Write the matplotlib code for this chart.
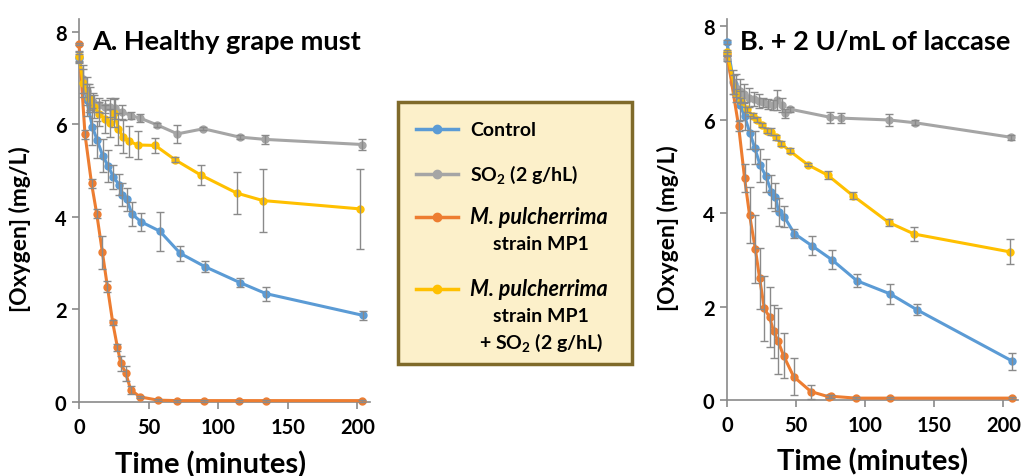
import matplotlib
matplotlib.use("Agg")
import matplotlib.pyplot as plt
from matplotlib.lines import Line2D
from matplotlib.patches import Rectangle

plt.rcParams['font.family'] = ['Lato', 'DejaVu Sans']
plt.rcParams['mathtext.fontset'] = 'custom'
plt.rcParams['mathtext.rm'] = 'Lato:bold'
plt.rcParams['mathtext.it'] = 'Lato:italic:bold'
plt.rcParams['mathtext.bf'] = 'Lato:bold'

# ---------------- data: panel A (healthy grape must) ----------------
A_ctrl_t = [0, 5.5, 9.6, 13, 17, 21, 24.7, 28.8, 31.2, 34.3, 38, 44.6, 58, 72.7, 90.6, 115.5, 134.3, 204]
A_ctrl_v = [7.42, 6.52, 5.94, 5.66, 5.32, 5.09, 4.86, 4.69, 4.48, 4.38, 4.06, 3.89, 3.69, 3.21, 2.92, 2.58, 2.34, 1.87]
A_ctrl_e = [0.1, 0.35, 0.4, 0.4, 0.35, 0.35, 0.25, 0.23, 0.25, 0.25, 0.25, 0.2, 0.42, 0.16, 0.12, 0.1, 0.15, 0.1]

A_so2_t = [0, 3, 5.5, 8, 10.3, 14.6, 18.7, 22.3, 25.9, 30.7, 37.4, 43.9, 56.3, 70.7, 89.4, 115.3, 133.8, 203.4]
A_so2_v = [7.45, 6.98, 6.72, 6.55, 6.47, 6.41, 6.38, 6.36, 6.34, 6.27, 6.18, 6.13, 5.98, 5.79, 5.90, 5.72, 5.67, 5.56]
A_so2_e = [0.1, 0.3, 0.3, 0.25, 0.2, 0.15, 0.15, 0.2, 0.23, 0.15, 0.08, 0.08, 0.05, 0.2, 0.03, 0.05, 0.1, 0.12]

A_mp1_t = [0, 4.3, 9, 12.7, 16.8, 20.4, 24.2, 27.6, 30, 33.6, 37.2, 43.9, 56.6, 70.7, 89.9, 115, 134, 203]
A_mp1_v = [7.73, 5.78, 4.72, 4.07, 3.23, 2.49, 1.72, 1.18, 0.84, 0.62, 0.26, 0.11, 0.04, 0.03, 0.03, 0.03, 0.03, 0.03]
A_mp1_e = [0.02, 0.1, 0.1, 0.1, 0.36, 0.12, 0.05, 0.08, 0.16, 0.16, 0.08, 0.03, 0.02, 0.02, 0.02, 0.02, 0.02, 0.02]

A_mix_t = [0, 3, 7.4, 11, 14.6, 18.7, 22.3, 25.4, 28.3, 31.4, 36, 42.2, 54.7, 69, 87.5, 113.4, 132, 201.7]
A_mix_v = [7.47, 6.89, 6.57, 6.38, 6.22, 6.11, 6.02, 6.24, 5.90, 5.73, 5.63, 5.55, 5.54, 5.23, 4.90, 4.51, 4.35, 4.17]
A_mix_e = [0.1, 0.3, 0.3, 0.25, 0.25, 0.3, 0.3, 0.3, 0.35, 0.35, 0.34, 0.3, 0.16, 0.05, 0.22, 0.46, 0.68, 0.87]

# ---------------- data: panel B (+ 2 U/mL of laccase) ----------------
B_ctrl_t = [0, 5, 9.6, 12.7, 16.5, 20, 24, 28, 32, 35, 37.3, 41.4, 48.7, 61.4, 75.9, 94, 118, 137.4, 206.5]
B_ctrl_v = [7.66, 6.75, 6.30, 6.07, 5.72, 5.40, 5.02, 4.80, 4.46, 4.35, 4.03, 3.92, 3.56, 3.30, 3.00, 2.55, 2.27, 1.93, 0.83]
B_ctrl_e = [0.05, 0.2, 0.3, 0.3, 0.35, 0.35, 0.35, 0.35, 0.35, 0.3, 0.3, 0.23, 0.1, 0.2, 0.2, 0.14, 0.21, 0.12, 0.18]

B_so2_t = [0, 4, 6.5, 9.1, 12, 15.6, 19.3, 22.9, 26, 29.6, 33.3, 36.1, 39.8, 41.7, 45.8, 74.2, 82.4, 117.4, 136.2, 205.4]
B_so2_v = [7.30, 6.80, 6.68, 6.62, 6.55, 6.47, 6.44, 6.40, 6.37, 6.33, 6.31, 6.42, 6.31, 6.13, 6.22, 6.05, 6.03, 5.99, 5.93, 5.62]
B_so2_e = [0.05, 0.25, 0.3, 0.25, 0.2, 0.2, 0.15, 0.15, 0.1, 0.1, 0.1, 0.22, 0.15, 0.1, 0.05, 0.12, 0.1, 0.12, 0.05, 0.05]

B_mp1_t = [0, 8.4, 12.7, 16.3, 20.5, 23.6, 27, 30.8, 33.7, 36.9, 40.9, 48.2, 60.7, 73.5, 75.5, 93.3, 117.6, 206]
B_mp1_v = [7.40, 5.86, 4.75, 3.96, 3.23, 2.60, 1.96, 1.77, 1.47, 1.26, 0.95, 0.50, 0.18, 0.07, 0.08, 0.04, 0.04, 0.04]
B_mp1_e = [0.05, 0.1, 0.3, 0.6, 0.73, 0.66, 0.7, 0.64, 0.57, 0.7, 0.48, 0.39, 0.15, 0.03, 0.03, 0.02, 0.02, 0.02]

B_mix_t = [0, 6.5, 10.3, 14.5, 18.5, 21.7, 25.3, 28.9, 32, 35.6, 39.3, 45.3, 58.6, 72.8, 91.1, 116.9, 135.4, 204.4]
B_mix_v = [7.44, 6.57, 6.40, 6.22, 6.08, 6.00, 5.88, 5.76, 5.74, 5.62, 5.48, 5.33, 5.03, 4.81, 4.37, 3.80, 3.55, 3.17]
B_mix_e = [0.05, 0.08, 0.05, 0.05, 0.05, 0.05, 0.05, 0.05, 0.08, 0.05, 0.05, 0.05, 0.03, 0.08, 0.07, 0.07, 0.15, 0.27]

series_names = ["Control", "SO2 (2 g/hL)", "M. pulcherrima strain MP1", "M. pulcherrima strain MP1 + SO2 (2 g/hL)"]
colors = ["#5B9BD5", "#A5A5A5", "#ED7D31", "#FFC000"]
panel_titles = ["A. Healthy grape must", "B. + 2 U/mL of laccase"]
x_ticks = [0, 50, 100, 150, 200]
y_ticks = [0, 2, 4, 6, 8]

W, H = 1022, 477
fig = plt.figure(figsize=(W / 100, H / 100), dpi=100)


def fx(px):
    return px / W


def fy(py):
    return 1 - py / H


axA = fig.add_axes([fx(79), fy(403), fx(370 - 79), fy(20) - fy(403)])
axB = fig.add_axes([fx(727), fy(401), fx(1018 - 727), fy(20) - fy(401)])

panels = [
    (axA, [(A_ctrl_t, A_ctrl_v, A_ctrl_e), (A_so2_t, A_so2_v, A_so2_e),
           (A_mp1_t, A_mp1_v, A_mp1_e), (A_mix_t, A_mix_v, A_mix_e)], 209, 8.27, 0.453),
    (axB, [(B_ctrl_t, B_ctrl_v, B_ctrl_e), (B_so2_t, B_so2_v, B_so2_e),
           (B_mp1_t, B_mp1_v, B_mp1_e), (B_mix_t, B_mix_v, B_mix_e)], 210.5, 8.15, 0.5),
]

for i, (ax, data, xmax, ymax, xlab_x) in enumerate(panels):
    for (t, v, e), c in zip(data, colors):
        ax.plot(t, v, '-o', color=c, lw=2.2, ms=5, zorder=3, clip_on=False)
        ax.errorbar(t, v, yerr=e, fmt='none', ecolor='#8a8a8a', elinewidth=1,
                    capsize=3, capthick=1, zorder=4, clip_on=False)
    ax.set_xlim(0, xmax)
    ax.set_ylim(0, ymax)
    ax.set_xticks(x_ticks)
    ax.set_yticks(y_ticks)
    for s in ['top', 'right']:
        ax.spines[s].set_visible(False)
    for s in ['left', 'bottom']:
        ax.spines[s].set_color('#8a8a8a')
        ax.spines[s].set_linewidth(1.2)
    ax.tick_params(axis='both', direction='out', length=5, width=1.2, color='#8a8a8a',
                   labelsize=14.5, pad=4)
    ax.tick_params(axis='x', pad=6)
    for lab in ax.get_xticklabels() + ax.get_yticklabels():
        lab.set_fontweight('bold')
    ax.set_xlabel("Time (minutes)", fontsize=21, fontweight='bold')
    ax.xaxis.set_label_coords(xlab_x, -0.125)
    ax.set_ylabel("[Oxygen] (mg/L)", fontsize=16.5, fontweight='bold')
    ax.yaxis.set_label_coords(-0.165, 0.455)
    ax.text(0.046, 0.943, panel_titles[i], transform=ax.transAxes, fontsize=19.5,
            fontweight='bold', va='center', ha='left')

# ---------------- legend box ----------------
fig.add_artist(Rectangle((fx(398), fy(365)), fx(632 - 398), fy(103) - fy(365),
                         transform=fig.transFigure, facecolor='#FCF0CA',
                         edgecolor='#7F6A2A', linewidth=2.5, zorder=1))

entry_y = [130, 175, 218, 290]
for c, yy in zip(colors, entry_y):
    fig.add_artist(Line2D([fx(416), fx(458)], [fy(yy), fy(yy)], color=c, lw=2.5,
                          transform=fig.transFigure, zorder=2))
    fig.add_artist(Line2D([fx(437)], [fy(yy)], color=c, marker='o', ms=6,
                          transform=fig.transFigure, zorder=3))

tk = dict(fontsize=14, fontweight='bold', va='center', zorder=3)
ti = dict(fontsize=15.5, fontweight='bold', va='center', zorder=3, style='italic')
fig.text(fx(470), fy(130), "Control", ha='left', **tk)
fig.text(fx(470), fy(175), r"SO$_2$ (2 g/hL)", ha='left', **tk)
fig.text(fx(470), fy(218), "M. pulcherrima", ha='left', **ti)
fig.text(fx(541), fy(245), "strain MP1", ha='center', **tk)
fig.text(fx(470), fy(290), "M. pulcherrima", ha='left', **ti)
fig.text(fx(541), fy(317), "strain MP1", ha='center', **tk)
fig.text(fx(541), fy(343), r"+ SO$_2$ (2 g/hL)", ha='center', **tk)

fig.savefig("out.png", dpi=100)
